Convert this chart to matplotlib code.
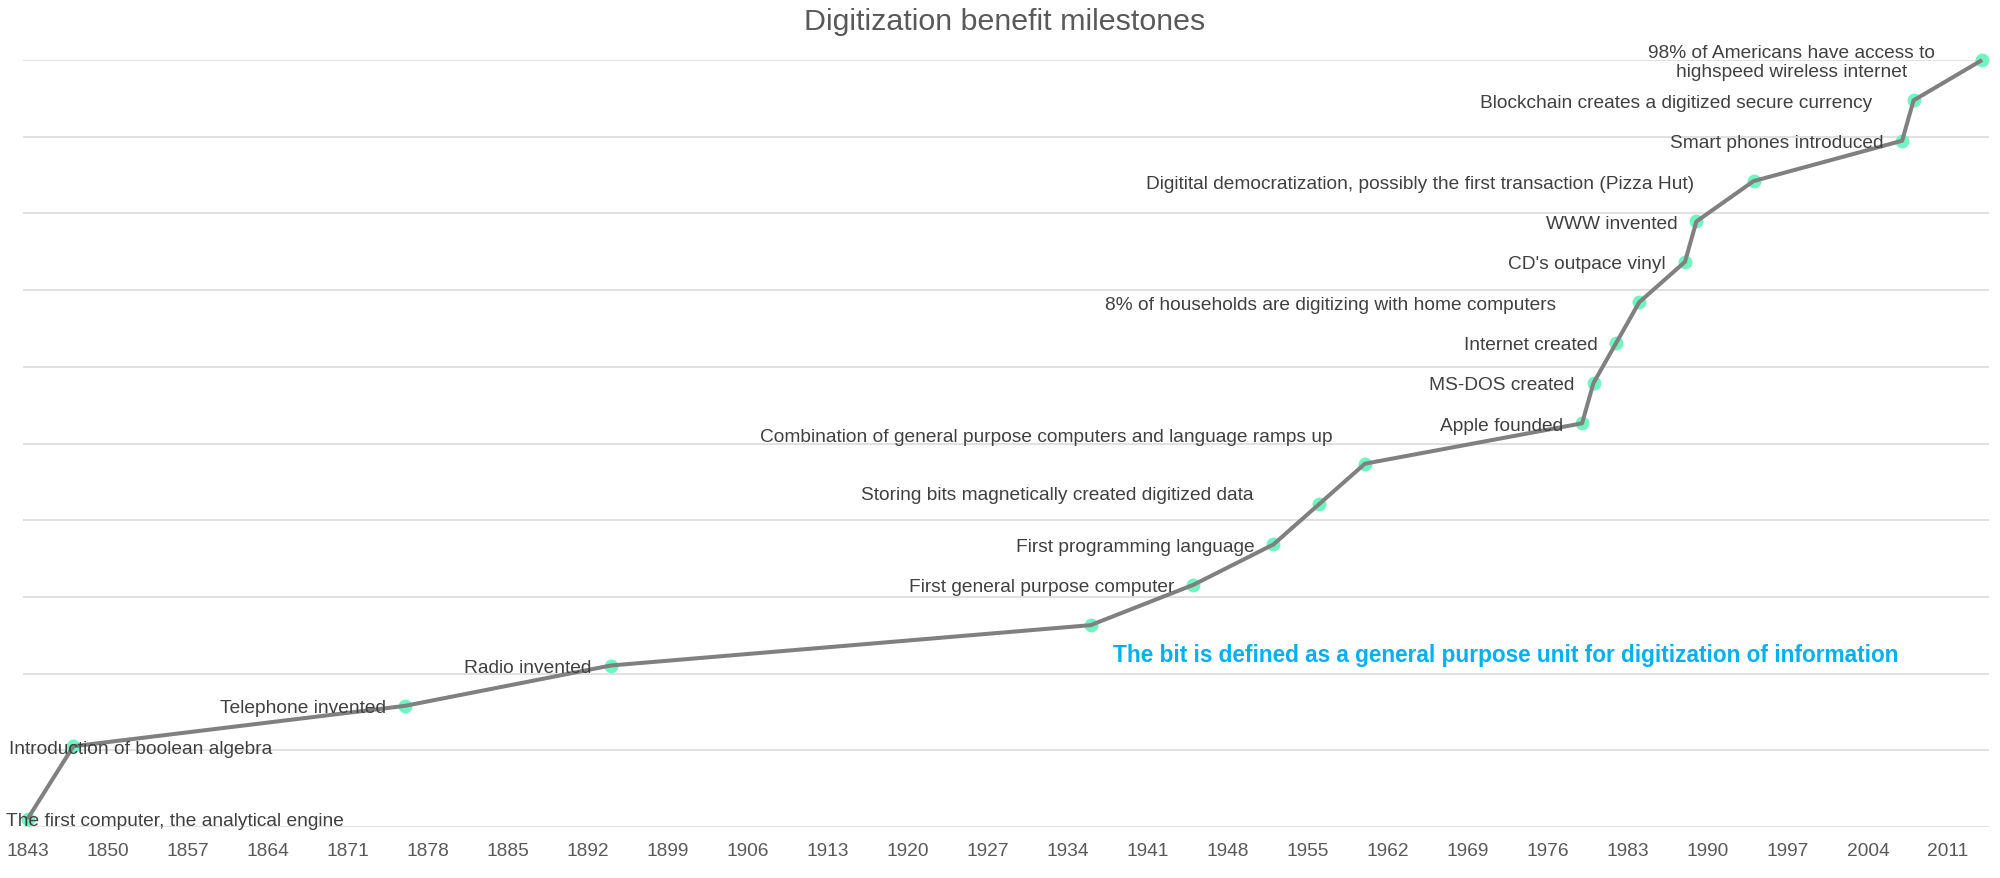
import numpy as np
import matplotlib
matplotlib.use("Agg")
import matplotlib.pyplot as plt

plt.rcParams['font.family'] = ['Liberation Sans', 'DejaVu Sans']

# ---- data ----
years = [1843, 1847, 1876, 1894, 1936, 1945, 1952, 1956, 1960, 1979,
         1980, 1982, 1984, 1988, 1989, 1994, 2007, 2008, 2014]
levels = [0.2, 2, 3, 4, 5, 6, 7, 8, 9, 10, 11, 12, 13, 14, 15, 16, 17, 18, 19]
labels = [
    "The first computer, the analytical engine",
    "Introduction of boolean algebra",
    "Telephone invented",
    "Radio invented",
    "The bit is defined as a general purpose unit for digitization of information",
    "First general purpose computer",
    "First programming language",
    "Storing bits magnetically created digitized data",
    "Combination of general purpose computers and language ramps up",
    "Apple founded",
    "MS-DOS created",
    "Internet created",
    "8% of households are digitizing with home computers",
    "CD's outpace vinyl",
    "WWW invented",
    "Digitital democratization, possibly the first transaction (Pizza Hut)",
    "Smart phones introduced",
    "Blockchain creates a digitized secure currency",
    "98% of Americans have access to\nhighspeed wireless internet",
]
xtick_years = list(range(1843, 2012, 7))
title = "Digitization benefit milestones"

# ---- layout of labels (pixel offsets from point, alignment) ----
label_layout = [
    (-22, -2, 'left'),
    (-64, -2, 'left'),
    (-19, -2, 'right'),
    (-19, -2, 'right'),
    (22, -29, 'left'),
    (-19, -2, 'right'),
    (-19, -2, 'right'),
    (-66, 10, 'right'),
    (-32, 27, 'right'),
    (-19, -2, 'right'),
    (-19, -2, 'right'),
    (-19, -2, 'right'),
    (-83, -2, 'right'),
    (-19, -2, 'right'),
    (-19, -2, 'right'),
    (-59, -2, 'right'),
    (-19, -2, 'right'),
    (-41, -2, 'right'),
    (-191, -2, 'center'),
]
highlight_index = 4

fig = plt.figure(figsize=(20, 8.79), dpi=100)
ax = fig.add_axes([0.0115, 0.05802, 0.983, 0.87258])

ax.set_xlim(1842.6, 2014.6)
ax.set_ylim(0, 19)
ax.set_yticks(np.linspace(0, 19, 11))
ax.set_yticklabels([])
ax.yaxis.grid(True, color='#D9D9D9', linewidth=1.1)
ax.set_axisbelow(True)
for s in ax.spines.values():
    s.set_visible(False)
ax.set_xticks(xtick_years)
ax.set_xticklabels([str(y) for y in xtick_years])
ax.tick_params(axis='both', length=0)
ax.tick_params(axis='x', labelsize=13.8, labelcolor='#595959', pad=10.5)

ax.scatter(years, levels, s=100, color='#70F5C2', zorder=2, linewidths=0,
           clip_on=False)
ax.plot(years, levels, color='#808080', linewidth=2.9, zorder=3,
        solid_capstyle='butt', solid_joinstyle='round', clip_on=False)

for i, (x, y, lab) in enumerate(zip(years, levels, labels)):
    dx, dy, ha = label_layout[i]
    if i == highlight_index:
        ax.annotate(lab, (x, y), xytext=(dx, dy), textcoords='offset pixels',
                    ha=ha, va='center', fontsize=16.3, fontweight='bold',
                    color='#00B0F0', annotation_clip=False, zorder=4)
    else:
        ax.annotate(lab, (x, y), xytext=(dx, dy), textcoords='offset pixels',
                    ha=ha, va='center', fontsize=13.8, color='#404040',
                    multialignment='center', linespacing=1.15,
                    annotation_clip=False, zorder=4)

fig.text(0.5025, 0.9755, title, ha='center', va='center', fontsize=21.9,
         color='#595959')

fig.savefig('out.png', dpi=100, facecolor='white')
